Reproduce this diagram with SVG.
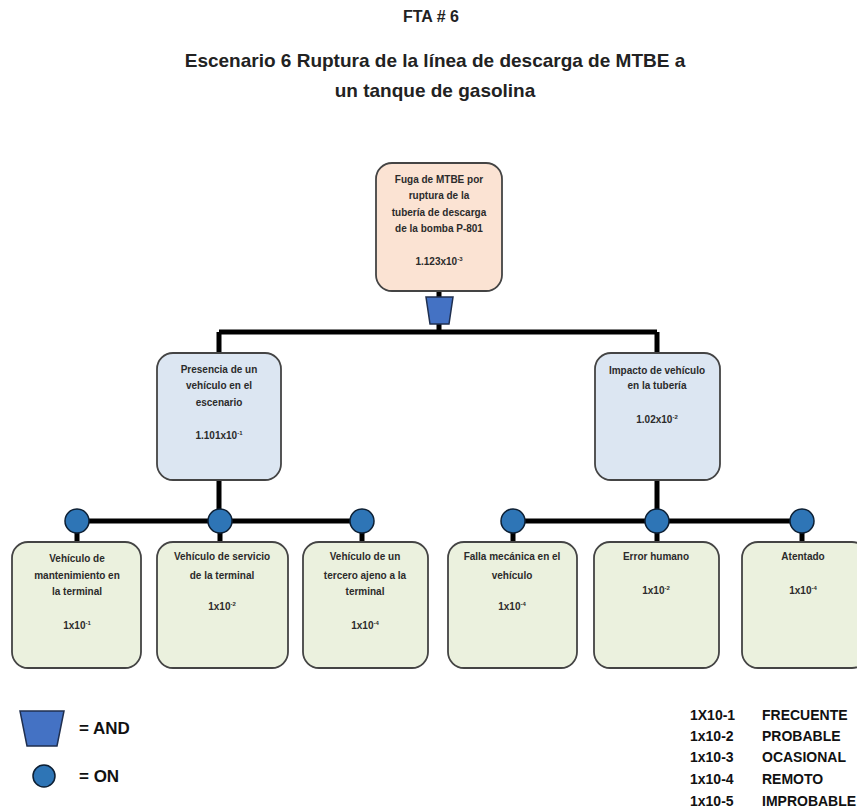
<svg xmlns="http://www.w3.org/2000/svg" width="857" height="812" viewBox="0 0 857 812">
<style>
.t{font-family:"Liberation Sans",Arial,sans-serif;font-weight:bold;fill:#222;text-anchor:middle}
.n{font-size:10px;fill:#2b2b2b}
.top{fill:#fbe3d3;stroke:#444;stroke-width:1.8}
.mid{fill:#dce6f2;stroke:#444;stroke-width:1.8}
.leaf{fill:#ebf1de;stroke:#444;stroke-width:1.8}
.ln{stroke:#000;stroke-width:5;fill:none}
.gate{fill:#4472c4;stroke:#1f2f4f;stroke-width:1.5}
.on{fill:#2e75b6;stroke:#0d1f33;stroke-width:1.5}
.sup{font-size:6px}
.lg{font-family:"Liberation Sans",Arial,sans-serif;font-weight:bold;fill:#111}
</style>
<rect width="857" height="812" fill="#fff"/>
<text class="t" x="431" y="22" font-size="16">FTA # 6</text>
<text class="t" x="435" y="67" font-size="19">Escenario 6 Ruptura de la línea de descarga de MTBE a</text>
<text class="t" x="435" y="97" font-size="19">un tanque de gasolina</text>

<g id="connectors">
<path class="ln" d="M439 291V297 M439 323V332 M219 332H657 M219 332V353 M657 332V353"/>
<path class="ln" d="M219 480V521 M77 521H362 M77 521V541 M220 521V541 M362 521V541"/>
<path class="ln" d="M657 480V521 M513 521H802 M513 521V541 M657 521V541 M802 521V541"/>
<polygon class="gate" points="426,297 453,297 449,324 430,324"/>
<circle class="on" cx="77" cy="521" r="12"/>
<circle class="on" cx="220" cy="521" r="12"/>
<circle class="on" cx="362" cy="521" r="12"/>
<circle class="on" cx="513" cy="521" r="12"/>
<circle class="on" cx="657" cy="521" r="12"/>
<circle class="on" cx="802" cy="521" r="12"/>
</g>

<g id="top">
<rect class="top" x="376" y="163" width="126" height="128" rx="16"/>
<text class="t n" x="439" y="183">Fuga de MTBE por</text>
<text class="t n" x="439" y="199">ruptura de la</text>
<text class="t n" x="439" y="216">tubería de descarga</text>
<text class="t n" x="439" y="232">de la bomba P-801</text>
<text class="t n" x="439" y="265">1.123x10<tspan class="sup" dy="-4">-3</tspan></text>
</g>

<g id="mid1">
<rect class="mid" x="157" y="353" width="124" height="127" rx="16"/>
<text class="t n" x="219" y="373">Presencia de un</text>
<text class="t n" x="219" y="389">vehículo en el</text>
<text class="t n" x="219" y="406">escenario</text>
<text class="t n" x="219" y="439">1.101x10<tspan class="sup" dy="-4">-1</tspan></text>
</g>

<g id="mid2">
<rect class="mid" x="595" y="353" width="125" height="127" rx="16"/>
<text class="t n" x="657" y="374">Impacto de vehículo</text>
<text class="t n" x="657" y="389">en la tubería</text>
<text class="t n" x="657" y="423">1.02x10<tspan class="sup" dy="-4">-2</tspan></text>
</g>

<g id="leaf1">
<rect class="leaf" x="12" y="542" width="129" height="126" rx="16"/>
<text class="t n" x="77" y="562">Vehículo de</text>
<text class="t n" x="77" y="579">mantenimiento en</text>
<text class="t n" x="77" y="595">la terminal</text>
<text class="t n" x="77" y="629">1x10<tspan class="sup" dy="-4">-1</tspan></text>
</g>

<g id="leaf2">
<rect class="leaf" x="157" y="542" width="131" height="126" rx="16"/>
<text class="t n" x="222" y="560">Vehículo de servicio</text>
<text class="t n" x="222" y="579">de la terminal</text>
<text class="t n" x="222" y="610">1x10<tspan class="sup" dy="-4">-2</tspan></text>
</g>

<g id="leaf3">
<rect class="leaf" x="303" y="542" width="125" height="126" rx="16"/>
<text class="t n" x="365" y="560">Vehículo de un</text>
<text class="t n" x="365" y="579">tercero ajeno a la</text>
<text class="t n" x="365" y="595">terminal</text>
<text class="t n" x="365" y="629">1x10<tspan class="sup" dy="-4">-4</tspan></text>
</g>

<g id="leaf4">
<rect class="leaf" x="448" y="542" width="129" height="126" rx="16"/>
<text class="t n" x="512" y="560">Falla mecánica en el</text>
<text class="t n" x="512" y="579">vehículo</text>
<text class="t n" x="512" y="610">1x10<tspan class="sup" dy="-4">-4</tspan></text>
</g>

<g id="leaf5">
<rect class="leaf" x="594" y="542" width="125" height="126" rx="16"/>
<text class="t n" x="656" y="560">Error humano</text>
<text class="t n" x="656" y="594">1x10<tspan class="sup" dy="-4">-2</tspan></text>
</g>

<g id="leaf6">
<rect class="leaf" x="742" y="542" width="126" height="126" rx="16"/>
<text class="t n" x="803" y="560">Atentado</text>
<text class="t n" x="803" y="594">1x10<tspan class="sup" dy="-4">-4</tspan></text>
</g>

<g id="legend">
<polygon class="gate" points="20,711 64,711 57,746 27,746"/>
<text class="lg" x="79" y="734" font-size="17">= AND</text>
<circle class="on" cx="44" cy="776" r="11"/>
<text class="lg" x="79" y="782" font-size="17">= ON</text>
<g font-size="14">
<text class="lg" x="690" y="720">1X10-1</text><text class="lg" x="762" y="720">FRECUENTE</text>
<text class="lg" x="690" y="741">1x10-2</text><text class="lg" x="762" y="741">PROBABLE</text>
<text class="lg" x="690" y="762">1x10-3</text><text class="lg" x="762" y="762">OCASIONAL</text>
<text class="lg" x="690" y="784">1x10-4</text><text class="lg" x="762" y="784">REMOTO</text>
<text class="lg" x="690" y="806">1x10-5</text><text class="lg" x="762" y="806">IMPROBABLE</text>
</g>
</g>
</svg>
